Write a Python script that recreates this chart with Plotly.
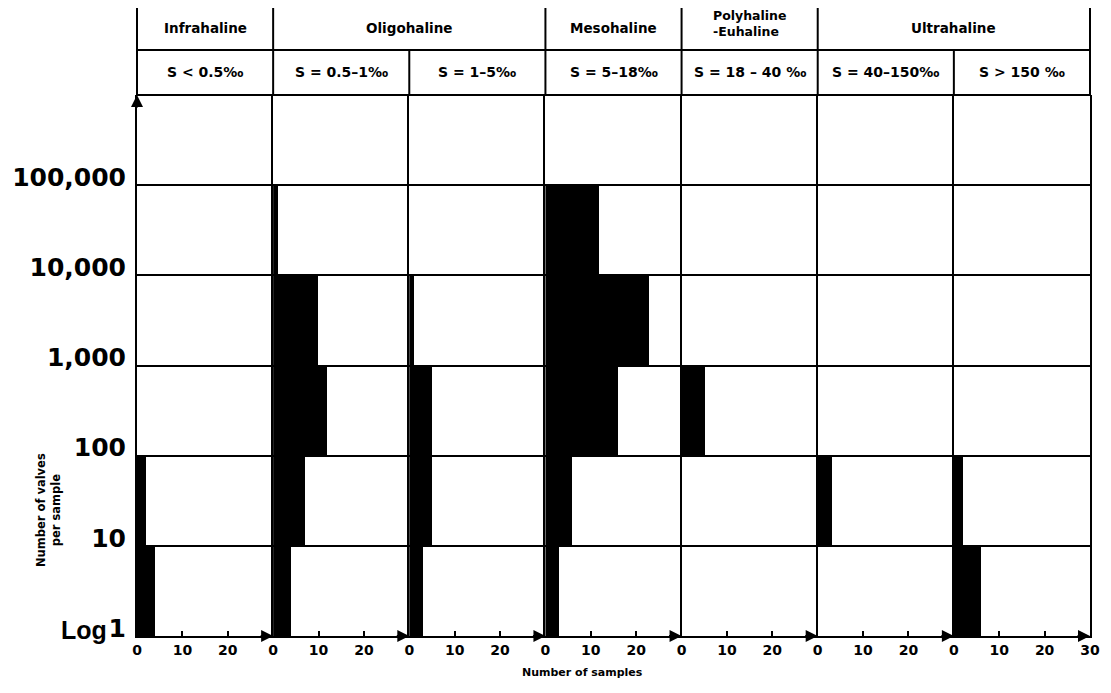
import plotly.graph_objects as go
from plotly.subplots import make_subplots

# ---------------- data ----------------
salinity_groups = ["Infrahaline", "Oligohaline", "Mesohaline", "Polyhaline<br>-Euhaline", "Ultrahaline"]
group_columns = [1, 2, 1, 1, 2]          # how many salinity classes each group spans
salinity_classes = ["S < 0.5‰", "S = 0.5–1‰", "S = 1–5‰", "S = 5–18‰",
                    "S = 18 – 40 ‰", "S = 40–150‰", "S > 150 ‰"]

# decade bins of "number of valves per sample" (log10 of lower bound)
valve_bins_log = [0, 1, 2, 3, 4]          # 1-10, 10-100, 100-1000, 1000-10000, 10000-100000
y_tick_vals = [0, 1, 2, 3, 4, 5]
y_tick_text = ["1", "10", "100", "1,000", "10,000", "100,000"]

# number of samples in each decade bin, per salinity class
infrahaline_lt05 = [4, 2, 0, 0, 0]
oligohaline_05_1 = [4, 7, 12, 10, 1]
oligohaline_1_5 = [3, 5, 5, 1, 0]
mesohaline_5_18 = [3, 6, 16, 23, 12]
polyeuhaline_18_40 = [0, 0, 5, 0, 0]
ultrahaline_40_150 = [0, 3, 0, 0, 0]
ultrahaline_gt150 = [6, 2, 0, 0, 0]
samples_by_class = [infrahaline_lt05, oligohaline_05_1, oligohaline_1_5, mesohaline_5_18,
                    polyeuhaline_18_40, ultrahaline_40_150, ultrahaline_gt150]

x_max = 30
x_ticks = [0, 10, 20]
x_ticks_last = [0, 10, 20, 30]

# ---------------- layout geometry (screen pixels) ----------------
OFF = 8                       # page body margin
SW, SH = 1111, 693
X0, X1, Y0, Y1 = 137, 1090, 95, 636     # plot area on screen
W, H = SW - OFF, SH - OFF
L, T = X0 - OFF, Y0 - OFF
R, B = W - (X1 - OFF), H - (Y1 - OFF)
PW, PH = X1 - X0, Y1 - Y0


def px(xpix):
    return (xpix - X0) / PW


def py(ypix):
    return (Y1 - ypix) / PH


FONT = "DejaVu Sans, Verdana, sans-serif"
ncol = len(salinity_classes)

fig = make_subplots(rows=1, cols=ncol, shared_yaxes=True, horizontal_spacing=0)

for i, counts in enumerate(samples_by_class):
    fig.add_trace(
        go.Bar(
            x=counts,
            y=[b + 0.5 for b in valve_bins_log],
            width=1,
            orientation="h",
            marker=dict(color="black", line=dict(width=0)),
            name=salinity_classes[i],
            showlegend=False,
            hovertemplate="%{x} samples<extra></extra>",
        ),
        row=1, col=i + 1,
    )
    last = i == ncol - 1
    fig.update_xaxes(
        range=[0, x_max], automargin=False,
        tickvals=x_ticks_last if last else x_ticks,
        ticks="inside", ticklen=5, tickwidth=1.5, tickcolor="black",
        showline=True, linecolor="black", linewidth=2,
        showgrid=False, zeroline=False,
        tickfont=dict(family=FONT, size=14, color="black", weight="bold"),
        row=1, col=i + 1,
    )
    fig.update_yaxes(
        range=[0, 6], automargin=False,
        tickvals=y_tick_vals, ticktext=y_tick_text,
        showticklabels=(i == 0),
        ticks="", showgrid=True, gridcolor="black", gridwidth=1.5,
        showline=True, linecolor="black", linewidth=2, mirror=last,
        zeroline=False, ticklabelstandoff=4, ticklabelshift=-8,
        tickfont=dict(family=FONT, size=25, color="black", weight="bold"),
        row=1, col=i + 1,
    )

# ---------------- header table ----------------
shapes = []
y_top, y_mid, y_bot = py(5), py(50), py(95)
for yy in (y_top, y_mid, y_bot):
    shapes.append(dict(type="line", xref="paper", yref="paper", x0=0, x1=1, y0=yy, y1=yy,
                       line=dict(color="black", width=2)))
bounds = [0]
for n in group_columns:
    bounds.append(bounds[-1] + n)
for b in bounds:
    shapes.append(dict(type="line", xref="paper", yref="paper", x0=b / ncol, x1=b / ncol,
                       y0=y_mid, y1=y_top, line=dict(color="black", width=2)))
for b in range(ncol + 1):
    shapes.append(dict(type="line", xref="paper", yref="paper", x0=b / ncol, x1=b / ncol,
                       y0=y_bot, y1=y_mid, line=dict(color="black", width=2)))

annotations = []
for g, name in enumerate(salinity_groups):
    cx = (bounds[g] + bounds[g + 1]) / 2 / ncol
    two_line = "<br>" in name
    annotations.append(dict(
        text=name, xref="paper", yref="paper", x=cx, y=py(28) if not two_line else py(24),
        showarrow=False, xanchor="center", yanchor="middle",
        font=dict(family=FONT, size=13.5 if not two_line else 12.5, color="black", weight="bold"),
        align="left",
    ))
for c, name in enumerate(salinity_classes):
    annotations.append(dict(
        text=name, xref="paper", yref="paper", x=(c + 0.5) / ncol, y=py(72),
        showarrow=False, xanchor="center", yanchor="middle",
        font=dict(family=FONT, size=14, color="black", weight="bold"),
    ))

# axis arrows
for i in range(ncol):
    xr = "x" if i == 0 else f"x{i + 1}"
    annotations.append(dict(
        text="", xref=xr, yref="y", x=x_max, y=0, ax=-14, ay=0,
        showarrow=True, arrowhead=2, arrowsize=1.2, arrowwidth=2, arrowcolor="black",
    ))
annotations.append(dict(
    text="", xref="x", yref="y", x=0, y=6, ax=0, ay=14,
    showarrow=True, arrowhead=2, arrowsize=1.2, arrowwidth=2, arrowcolor="black",
))

# titles
annotations.append(dict(
    text="Number of valves<br>per sample", xref="paper", yref="paper",
    x=px(49), y=py(510), textangle=-90, showarrow=False,
    xanchor="center", yanchor="middle",
    font=dict(family=FONT, size=11.5, color="black", weight="bold"),
))
annotations.append(dict(
    text="Log", xref="paper", yref="paper", x=px(84), y=py(630), showarrow=False,
    xanchor="center", yanchor="middle",
    font=dict(family="Liberation Sans Narrow, Liberation Sans, Arial Narrow, sans-serif",
              size=25, color="black", weight="bold"),
))
annotations.append(dict(
    text="Number of samples", xref="paper", yref="paper", x=px(582), y=py(672),
    showarrow=False, xanchor="center", yanchor="middle",
    font=dict(family=FONT, size=11, color="black", weight="bold"),
))

fig.update_layout(
    width=W, height=H,
    margin=dict(l=L, r=R, t=T, b=B, autoexpand=False),
    paper_bgcolor="white", plot_bgcolor="white",
    bargap=0, barmode="overlay",
    shapes=shapes, annotations=annotations,
    showlegend=False,
)

fig.write_html("out.html")
